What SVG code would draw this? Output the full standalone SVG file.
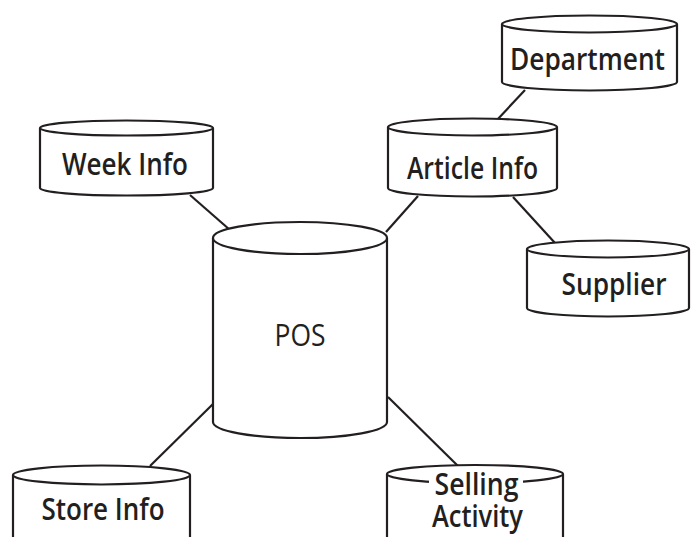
<svg xmlns="http://www.w3.org/2000/svg" width="692" height="537" viewBox="0 0 692 537">
  <style>
    .cyl { fill: #ffffff; stroke: #231f20; stroke-width: 2.2; }
    .link { stroke: #231f20; stroke-width: 2.2; fill: none; }
    .lbl { font-family: "Open Sans", "Liberation Sans", sans-serif; font-size: 31px; font-weight: 600; fill: #231f20; text-anchor: middle; }
    .light { font-weight: 400; }
  </style>
  <rect width="692" height="537" fill="#ffffff"/>

  <!-- connectors -->
  <g id="connectors">
    <line class="link" x1="190" y1="195" x2="230" y2="230"/>
    <line class="link" x1="418" y1="196" x2="386" y2="232"/>
    <line class="link" x1="525" y1="90" x2="497" y2="120"/>
    <line class="link" x1="513" y1="197" x2="555" y2="243"/>
    <line class="link" x1="150" y1="466" x2="213" y2="404"/>
    <line class="link" x1="388" y1="397" x2="458" y2="466"/>
  </g>

  <!-- Week Info -->
  <g id="week-info">
    <path class="cyl" d="M40,128 L40,188 A86.5,7.5 0 0 0 213,188 L213,128"/>
    <ellipse class="cyl" cx="126.5" cy="128" rx="86.5" ry="7.5"/>
    <text class="lbl" x="125" y="175" textLength="126" lengthAdjust="spacingAndGlyphs">Week Info</text>
  </g>

  <!-- Department -->
  <g id="department">
    <path class="cyl" d="M502,24 L502,82 A87.5,8.5 0 0 0 677,82 L677,24"/>
    <ellipse class="cyl" cx="589.5" cy="24" rx="87.5" ry="8.5"/>
    <text class="lbl" x="587.5" y="70" textLength="155" lengthAdjust="spacingAndGlyphs">Department</text>
  </g>

  <!-- Article Info -->
  <g id="article-info">
    <path class="cyl" d="M388,127 L388,188 A84.5,8.5 0 0 0 557,188 L557,127"/>
    <ellipse class="cyl" cx="472.5" cy="127" rx="84.5" ry="8.5"/>
    <text class="lbl" x="472.5" y="179" textLength="131" lengthAdjust="spacingAndGlyphs">Article Info</text>
  </g>

  <!-- POS -->
  <g id="pos">
    <path class="cyl" d="M213,238 L213,422 A87,16 0 0 0 387,422 L387,238"/>
    <ellipse class="cyl" cx="300" cy="238" rx="87" ry="16"/>
    <text class="lbl light" x="300" y="346" textLength="51" lengthAdjust="spacingAndGlyphs">POS</text>
  </g>

  <!-- Supplier -->
  <g id="supplier">
    <path class="cyl" d="M527,249 L527,308 A81,8.5 0 0 0 689,308 L689,249"/>
    <ellipse class="cyl" cx="608" cy="249" rx="81" ry="8.5"/>
    <text class="lbl" x="614" y="295" textLength="105" lengthAdjust="spacingAndGlyphs">Supplier</text>
  </g>

  <!-- Store Info -->
  <g id="store-info">
    <path class="cyl" d="M13,475 L13,542 A88.5,9.5 0 0 0 190,542 L190,475"/>
    <ellipse class="cyl" cx="101.5" cy="475" rx="88.5" ry="9.5"/>
    <text class="lbl" x="103" y="520" textLength="123" lengthAdjust="spacingAndGlyphs">Store Info</text>
  </g>

  <!-- Selling Activity -->
  <g id="selling-activity">
    <path class="cyl" d="M387,474 L387,545 A88,9 0 0 0 563,545 L563,474"/>
    <ellipse class="cyl" cx="475" cy="474" rx="88" ry="9"/>
    <rect x="429" y="470" width="94" height="27" fill="#ffffff"/>
    <text class="lbl" x="476.5" y="495" textLength="84" lengthAdjust="spacingAndGlyphs">Selling</text>
    <text class="lbl" x="477.5" y="527" textLength="91" lengthAdjust="spacingAndGlyphs">Activity</text>
  </g>
</svg>
